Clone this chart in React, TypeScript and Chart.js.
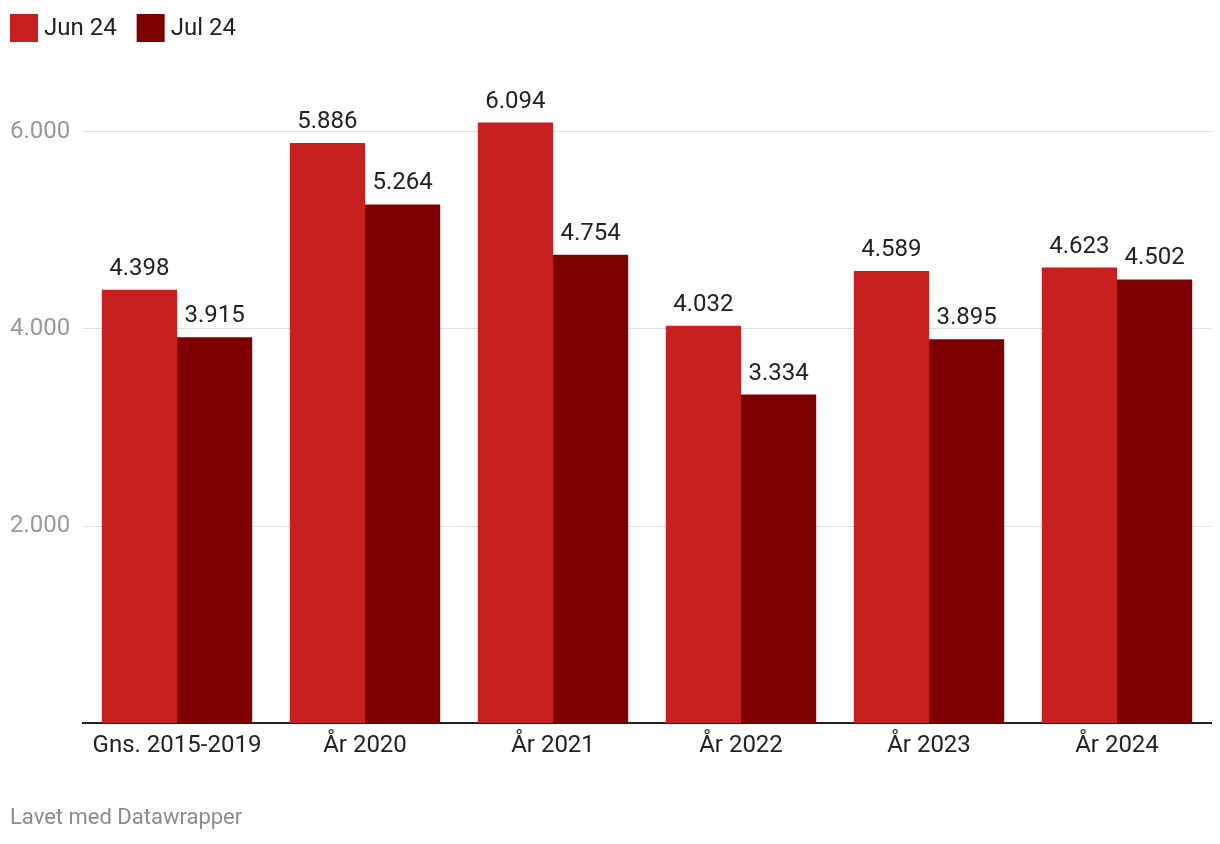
import React, { useEffect, useRef } from "react";
import { Chart, registerables } from "chart.js";

Chart.register(...registerables);

const categories = ["Gns. 2015-2019", "År 2020", "År 2021", "År 2022", "År 2023", "År 2024"];
const seriesNames = ["Jun 24", "Jul 24"];
const jun24 = [4398, 5886, 6094, 4032, 4589, 4623];
const jul24 = [3915, 5264, 4754, 3334, 3895, 4502];
const yTicks = [2000, 4000, 6000];
const footerText = "Lavet med Datawrapper";

const colors = ["#c81f1f", "#7c0000"];
const FONT = "Roboto, 'Noto Sans', sans-serif";

const fmt = (v: number) => {
  const s = Math.round(v).toString();
  return s.replace(/\B(?=(\d{3})+(?!\d))/g, ".");
};

const overlayPlugin = {
  id: "overlay",
  afterDraw(chart: any) {
    const ctx = chart.ctx;
    ctx.save();
    // legend
    ctx.font = `24px ${FONT}`;
    ctx.textBaseline = "alphabetic";
    ctx.textAlign = "left";
    let x = 10;
    chart.data.datasets.forEach((ds: any) => {
      ctx.fillStyle = ds.backgroundColor;
      ctx.fillRect(x, 14, 28, 28);
      x += 28 + 6;
      ctx.fillStyle = "#222";
      ctx.fillText(ds.label, x, 35);
      x += ctx.measureText(ds.label).width + 20;
    });
    // bar value labels
    ctx.textAlign = "center";
    ctx.fillStyle = "#222";
    chart.data.datasets.forEach((ds: any, di: number) => {
      const meta = chart.getDatasetMeta(di);
      meta.data.forEach((bar: any, i: number) => {
        ctx.fillText(fmt(ds.data[i]), bar.x, bar.y - 15);
      });
    });
    // footer
    ctx.textAlign = "left";
    ctx.textBaseline = "middle";
    ctx.font = `22px ${FONT}`;
    ctx.fillStyle = "#8c8c8c";
    ctx.fillText(footerText, 10, 818);
    ctx.restore();
  },
};

export default function App() {
  const ref = useRef<HTMLCanvasElement>(null);
  useEffect(() => {
    if (!ref.current) return;
    const chart = new Chart(ref.current, {
      type: "bar",
      data: {
        labels: categories,
        datasets: [
          { label: seriesNames[0], data: jun24, backgroundColor: colors[0] },
          { label: seriesNames[1], data: jul24, backgroundColor: colors[1] },
        ],
      },
      options: {
        animation: false,
        responsive: true,
        maintainAspectRatio: false,
        layout: { padding: { left: 10, right: 9, top: 53, bottom: 76 } },
        datasets: { bar: { categoryPercentage: 0.8, barPercentage: 1.0 } } as any,
        plugins: {
          legend: { display: false },
          tooltip: { enabled: false },
        },
        scales: {
          x: {
            grid: { display: false, drawTicks: false },
            border: { display: true, color: "#222", width: 2 },
            ticks: { color: "#222", font: { family: FONT, size: 24 }, padding: 8, maxRotation: 0, autoSkip: false },
          },
          y: {
            min: 0,
            max: 6800,
            afterBuildTicks: (s: any) => {
              s.ticks = yTicks.map((v) => ({ value: v }));
            },
            afterFit: (s: any) => {
              s.width = 73;
            },
            grid: { color: "#e0e0e0", lineWidth: 1, drawTicks: false },
            border: { display: false },
            ticks: {
              color: "#999",
              font: { family: FONT, size: 24 },
              crossAlign: "far",
              padding: 13,
              callback: (v: any) => fmt(Number(v)),
            },
          },
        },
      },
      plugins: [overlayPlugin],
    });
    return () => chart.destroy();
  }, []);
  return (
    <div style={{ position: "fixed", left: 0, top: 0, width: 1220, height: 844, background: "#fff" }}>
      <canvas ref={ref} />
    </div>
  );
}
